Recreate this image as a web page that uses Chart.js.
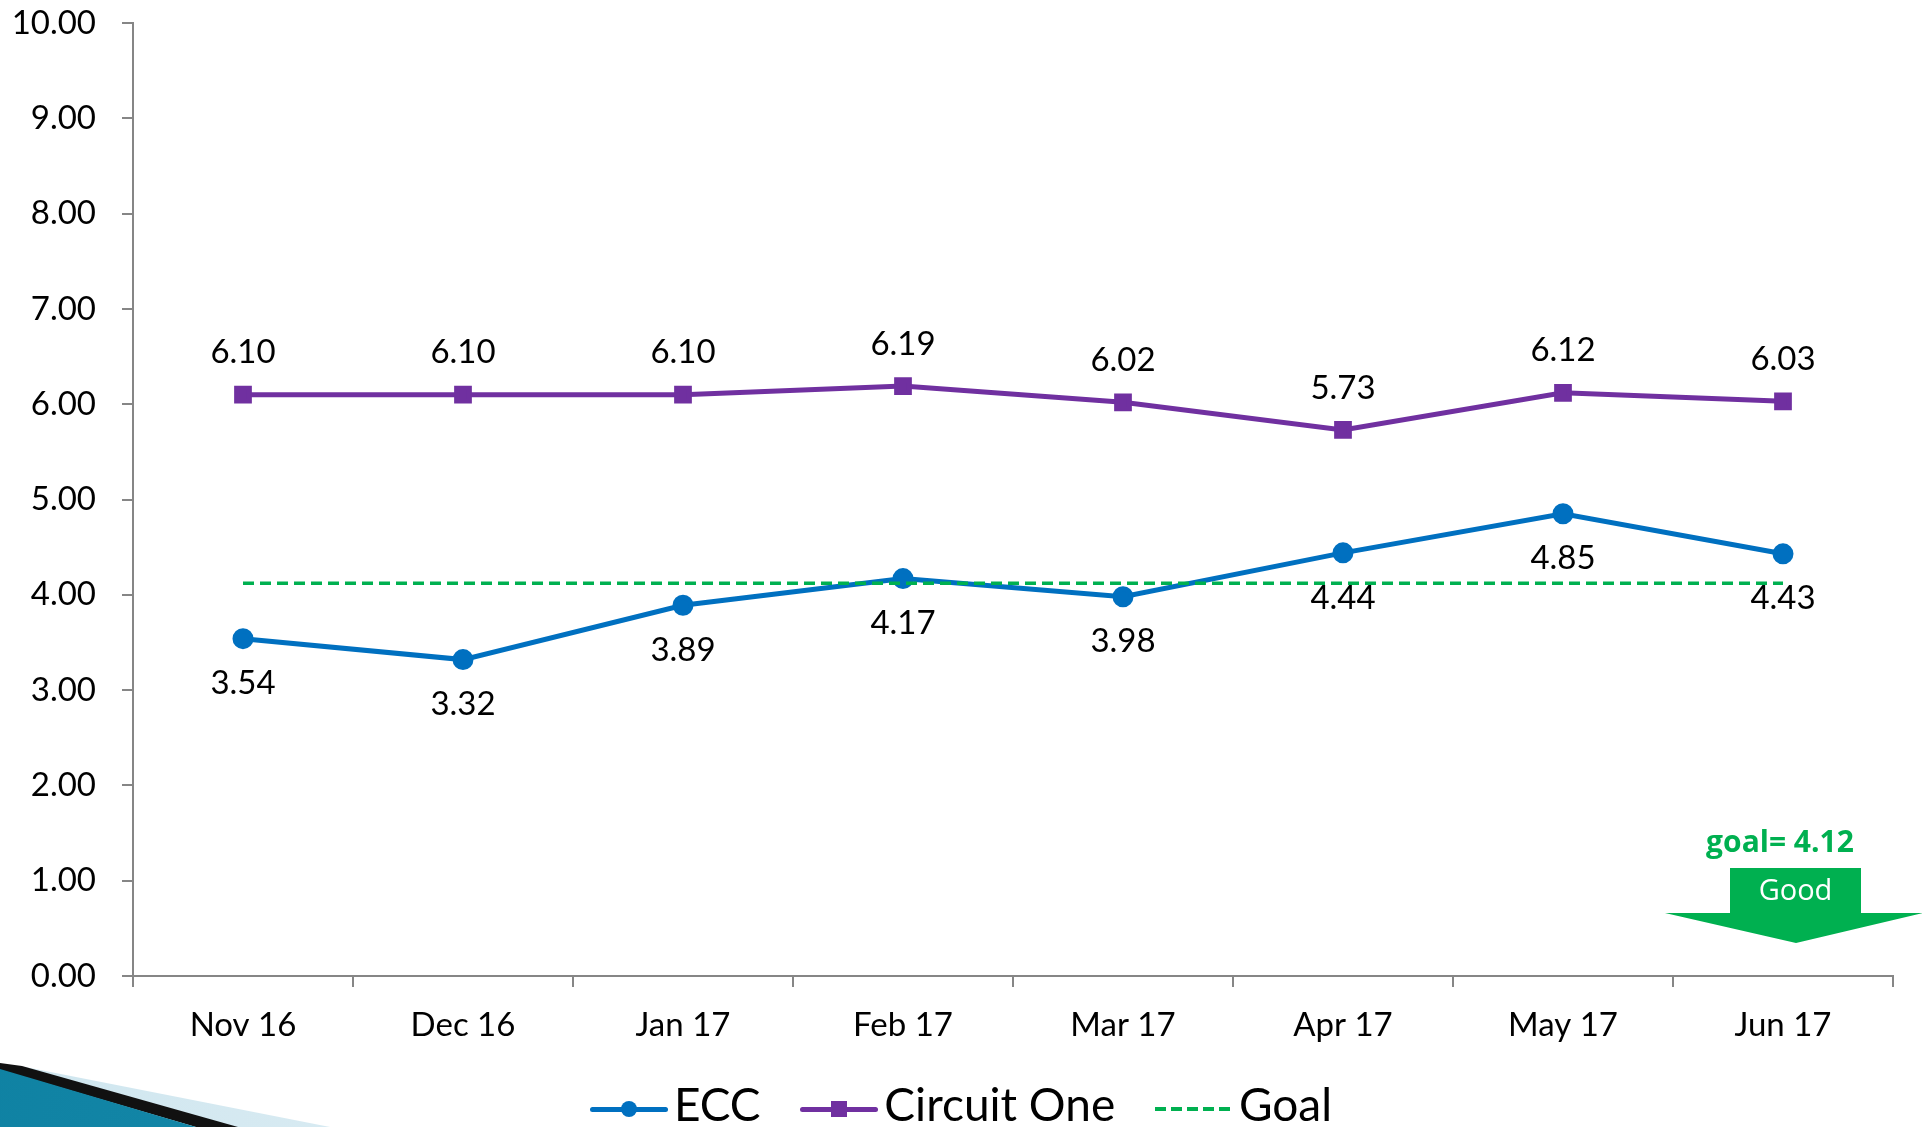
<!DOCTYPE html>
<html>
<head>
<meta charset="utf-8">
<script src="https://cdn.jsdelivr.net/npm/chart.js@4.4.1/dist/chart.umd.min.js"></script>
<style>
  html, body { margin: 0; padding: 0; background: #fff; overflow: hidden; }
  #wrap { position: relative; width: 1922px; height: 1127px; }
  #chart { position: absolute; left: 0; top: 0; }
  .legend { position: absolute; top: 1078px; left: 0; width: 1922px; text-align: center; font-family: Lato, sans-serif; font-size: 46px; line-height: 52px; color: #000; white-space: nowrap; }
  .item { display: inline-block; margin: 0 14px; }
  .sym { display: inline-block; position: relative; width: 78px; height: 20px; vertical-align: middle; margin-right: 6px; }
  .sym .ln { position: absolute; left: 0; right: 0; top: 8px; height: 5px; border-radius: 3px; }
  .sym .mk { position: absolute; left: 31px; top: 2px; width: 16px; height: 16px; }
  .goalTxt { position: absolute; left: 1700px; top: 820px; width: 160px; text-align: center; font-family: "Open Sans", sans-serif; font-weight: bold; font-size: 30px; color: #00B050; }
  .arrow { position: absolute; left: 1665px; top: 868px; width: 258px; height: 75px; background: #00B050;
    clip-path: polygon(65px 0, 196px 0, 196px 45px, 258px 45px, 131px 75px, 0 45px, 65px 45px); }
  .goodTxt { position: absolute; left: 1730px; top: 869px; width: 131px; text-align: center; font-family: "Open Sans", sans-serif; font-size: 29px; color: #fff; }
  .corner { position: absolute; left: 0; top: 0; width: 1922px; height: 1127px; pointer-events: none; }
</style>
</head>
<body>
<div id="wrap">
  <canvas id="chart" width="1922" height="1127"></canvas>
  <div class="corner" style="background: linear-gradient(90deg, #cfe6ef, #ffffff); clip-path: polygon(20px 1066px, 330px 1127px, 230px 1127px);"></div>
  <div class="corner" style="background: #111; clip-path: polygon(0 1063px, 22px 1066px, 238px 1127px, 196px 1127px, 0 1070px);"></div>
  <div class="corner" style="background: linear-gradient(100deg, #0d7fa0, #2aa3c4); clip-path: polygon(0 1069px, 196px 1127px, 0 1127px);"></div>
  <div class="goalTxt">goal= 4.12</div>
  <div class="arrow"></div>
  <div class="goodTxt">Good</div>
  <div class="legend">
    <span class="item"><span class="sym"><span class="ln" style="background:#0070C0"></span><span class="mk" style="background:#0070C0;border-radius:50%"></span></span>ECC</span>
    <span class="item"><span class="sym"><span class="ln" style="background:#7030A0"></span><span class="mk" style="background:#7030A0"></span></span>Circuit One</span>
    <span class="item"><span class="sym"><span class="ln" style="height:4px;border-radius:0;background:repeating-linear-gradient(90deg,#00B050 0 11px,transparent 11px 16px)"></span></span>Goal</span>
  </div>
</div>
<script>
  // chart values
  var months = ['Nov 16', 'Dec 16', 'Jan 17', 'Feb 17', 'Mar 17', 'Apr 17', 'May 17', 'Jun 17'];
  var eccValues = [3.54, 3.32, 3.89, 4.17, 3.98, 4.44, 4.85, 4.43];
  var circuitValues = [6.10, 6.10, 6.10, 6.19, 6.02, 5.73, 6.12, 6.03];
  var goalValues = [4.12, 4.12, 4.12, 4.12, 4.12, 4.12, 4.12, 4.12];
  var yTicks = [0, 1, 2, 3, 4, 5, 6, 7, 8, 9, 10];

  var labelFont = '33px Lato, sans-serif';

  // value labels: ECC below the points, Circuit One above
  var valueLabels = {
    id: 'valueLabels',
    afterDatasetsDraw: function(chart) {
      var ctx = chart.ctx;
      ctx.save();
      ctx.font = labelFont;
      ctx.fillStyle = '#000';
      ctx.textAlign = 'center';
      ctx.textBaseline = 'middle';
      [[0, 45], [1, -42]].forEach(function(p) {
        var ds = chart.data.datasets[p[0]];
        chart.getDatasetMeta(p[0]).data.forEach(function(pt, i) {
          ctx.fillText(ds.data[i].toFixed(2), pt.x, pt.y + p[1]);
        });
      });
      ctx.restore();
    }
  };

  var ctx = document.getElementById('chart').getContext('2d');
  var chart = new Chart(ctx, {
    type: 'line',
    data: {
      labels: months,
      datasets: [{
        label: 'ECC',
        data: eccValues,
        borderColor: '#0070C0',
        backgroundColor: '#0070C0',
        borderWidth: 5,
        pointStyle: 'circle',
        pointRadius: 8,
        order: 2
      }, {
        label: 'Circuit One',
        data: circuitValues,
        borderColor: '#7030A0',
        backgroundColor: '#7030A0',
        borderWidth: 5,
        pointStyle: 'rect',
        pointRadius: 9,
        order: 1
      }, {
        label: 'Goal',
        data: goalValues,
        borderColor: '#00B050',
        borderWidth: 3.5,
        borderDash: [11, 6],
        pointRadius: 0,
        order: 0
      }]
    },
    options: {
      responsive: false,
      animation: false,
      layout: { padding: { top: 23, right: 29, left: 0, bottom: 0 } },
      plugins: {
        legend: { display: false },
        tooltip: { enabled: false }
      },
      scales: {
        x: {
          offset: true,
          grid: { offset: true, drawOnChartArea: false, tickLength: 11, color: '#868686', lineWidth: 2 },
          border: { color: '#868686', width: 2 },
          ticks: { color: '#000', font: { family: 'Lato, sans-serif', size: 33 }, padding: 19, maxRotation: 0 },
          afterFit: function(s) { s.height = 151; s.paddingLeft = 0; s.paddingRight = 0; }
        },
        y: {
          min: 0,
          max: 10,
          afterBuildTicks: function(s) { s.ticks = yTicks.map(function(v) { return { value: v }; }); },
          grid: { drawOnChartArea: false, tickLength: 11, color: '#868686', lineWidth: 2 },
          border: { color: '#868686', width: 2 },
          ticks: {
            color: '#000',
            font: { family: 'Lato, sans-serif', size: 33 },
            padding: 26,
            callback: function(v) { return Number(v).toFixed(2); }
          },
          afterFit: function(s) { s.width = 133; s.paddingTop = 0; s.paddingBottom = 0; }
        }
      }
    },
    plugins: [valueLabels]
  });
</script>
</body>
</html>
